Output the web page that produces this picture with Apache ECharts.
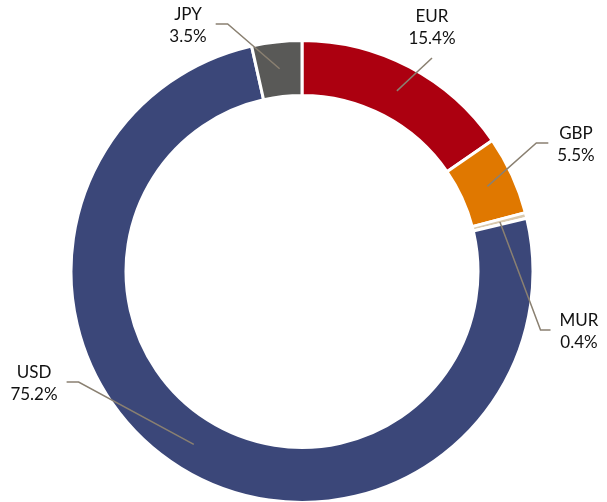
<!DOCTYPE html>
<html>
<head>
<meta charset="utf-8">
<script src="https://cdn.jsdelivr.net/npm/echarts@6/dist/echarts.min.js"></script>
<style>
  html, body { margin: 0; padding: 0; background: #fff; }
  #main { width: 607px; height: 502px; }
</style>
</head>
<body>
<div id="main"></div>
<script>
// currency share, clockwise from 12 o'clock
var currencies = ['EUR', 'GBP', 'MUR', 'USD', 'JPY'];
var shares = [15.4, 5.5, 0.4, 75.2, 3.5];
var colors = ['#ac0010', '#e07800', '#d9c9ad', '#3b4779', '#595957'];

var chart = echarts.init(document.getElementById('main'));

// label box centre, side the leader line joins, horizontal tail length
var labelPos = {
    EUR: [432, 28, 'bottom', 0],
    GBP: [576, 145, 'left', 12],
    MUR: [579, 332, 'left', 10],
    USD: [34, 384, 'right', 12],
    JPY: [188, 26, 'right', 12]
};
var gap = 9;

var ringData = currencies.map(function (name, i) {
    return { name: name, value: shares[i], itemStyle: { color: colors[i] } };
});
var labelData = currencies.map(function (name, i) {
    return { name: name, value: shares[i] };
});

var option = {
    animation: false,
    series: [
        {
            type: 'pie',
            center: [302, 271.5],
            radius: [176, 231],
            startAngle: 90,
            clockwise: true,
            silent: true,
            label: { show: false },
            labelLine: { show: false },
            itemStyle: { borderColor: '#fff', borderWidth: 3 },
            data: ringData
        },
        {
            // transparent copy that only carries the labels and leader lines
            type: 'pie',
            z: 5,
            center: [302, 271.5],
            radius: [0, 204],
            startAngle: 90,
            clockwise: true,
            silent: true,
            avoidLabelOverlap: false,
            itemStyle: { color: 'rgba(0,0,0,0)' },
            label: {
                show: true,
                position: 'outside',
                formatter: function (p) { return p.name + '\n' + p.value.toFixed(1) + '%'; },
                fontFamily: 'Lato',
                fontSize: 17,
                lineHeight: 22,
                color: '#111'
            },
            labelLine: {
                show: true,
                length: 10,
                length2: 10,
                lineStyle: { color: '#8a8071', width: 1.5 }
            },
            labelLayout: function (params) {
                var p = labelPos[currencies[params.dataIndex]];
                var anchor = params.labelLinePoints[0];
                var hw = params.labelRect.width / 2;
                var hh = params.labelRect.height / 2;
                var end, mid;
                if (p[2] === 'left') {
                    end = [p[0] - hw - gap, p[1] - 2];
                    mid = [end[0] - p[3], end[1]];
                } else if (p[2] === 'right') {
                    end = [p[0] + hw + gap, p[1] - 2];
                    mid = [end[0] + p[3], end[1]];
                } else {
                    end = [p[0], p[1] + hh + gap - 1];
                    mid = [end[0], end[1] + p[3]];
                }
                return {
                    x: p[0], y: p[1], align: 'center', verticalAlign: 'middle',
                    labelLinePoints: [anchor, mid, end]
                };
            },
            data: labelData
        }
    ]
};
chart.setOption(option);
</script>
</body>
</html>
